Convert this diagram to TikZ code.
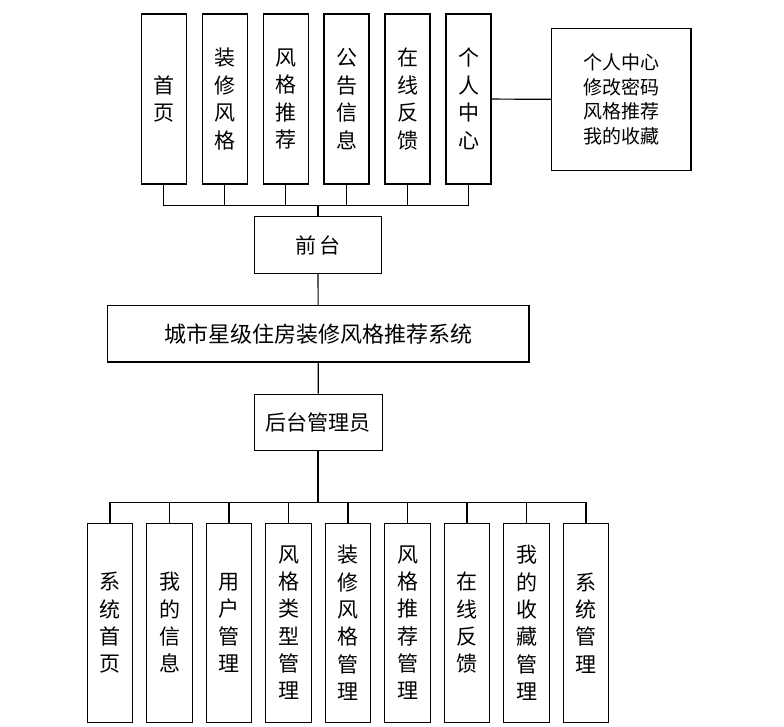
\documentclass[tikz,border=0pt]{standalone}
\usepackage{fontspec}
\newfontfamily\cjk{Noto Sans CJK SC}
\usetikzlibrary{positioning}

\begin{document}
\begin{tikzpicture}[
  x=1bp, y=-1bp,
  vbox/.style={draw, line width=1.2bp, inner sep=0pt, align=center,
               minimum width=45bp, minimum height=170bp,
               font=\cjk\fontsize{21bp}{27.5bp}\selectfont},
  lbox/.style={draw, line width=1.2bp, inner sep=0pt, align=center,
               minimum width=45.5bp, minimum height=199bp,
               font=\cjk\fontsize{21bp}{27.3bp}\selectfont},
  hbox/.style={draw, line width=1.2bp, inner sep=0pt, align=center,
               minimum width=127.5bp, minimum height=56.5bp,
               font=\cjk\fontsize{21bp}{25bp}\selectfont},
  lnk/.style={line width=1.2bp},
  trunk/.style={line width=2.2bp}]

\useasboundingbox (0,0) rectangle (784,727);

% front end
\node[vbox] (shouye) at (163.7,99) {首\\页};
\node[vbox] (zxfg)   at (224.7,99) {装\\修\\风\\格};
\node[vbox] (fgtj)   at (285.6,99) {风\\格\\推\\荐};
\node[vbox] (gaxx)   at (346.5,99) {公\\告\\信\\息};
\node[vbox] (zxfk)   at (407.5,99) {在\\线\\反\\馈};
\node[vbox] (grzx)   at (468.5,99) {个\\人\\中\\心};
\node[draw, line width=1.2bp, inner sep=0pt, align=center,
      minimum width=139.3bp, minimum height=142.3bp,
      font=\cjk\fontsize{19bp}{24.5bp}\selectfont]
      (grlist) at (621.3,99.5) {个人中心\\修改密码\\风格推荐\\我的收藏};

\node[hbox] (qiantai) at (318,245) {前\,台};
\node[hbox, minimum width=421.7bp, minimum height=56.3bp,
      font=\cjk\fontsize{22bp}{25bp}\selectfont] (sys)
      at (318.2,333.8) {城市星级住房装修风格推荐系统};
\node[hbox, minimum width=128bp] (houtai) at (318.3,422.5) {后台管理员};

% back end
\node[lbox] (xtsy)  at (110.0,622.8) {系\\统\\首\\页};
\node[lbox] (wdxx)  at (169.5,622.8) {我\\的\\信\\息};
\node[lbox] (yhgl)  at (229.0,622.8) {用\\户\\管\\理};
\node[lbox] (fglx)  at (288.5,622.8) {风\\格\\类\\型\\管\\理};
\node[lbox] (zxgl)  at (348.0,622.8) {装\\修\\风\\格\\管\\理};
\node[lbox] (tjgl)  at (407.5,622.8) {风\\格\\推\\荐\\管\\理};
\node[lbox] (zxfk2) at (467.0,622.8) {在\\线\\反\\馈};
\node[lbox] (scgl)  at (526.5,622.8) {我\\的\\收\\藏\\管\\理};
\node[lbox] (xtgl)  at (586.0,622.8) {系\\统\\管\\理};

\coordinate (topbus) at (318,205.7);
\coordinate (botbus) at (318.3,502.3);

\draw[lnk] (shouye) |- (topbus);
\draw[lnk] (zxfg)   |- (topbus);
\draw[lnk] (fgtj)   |- (topbus);
\draw[lnk] (gaxx)   |- (topbus);
\draw[lnk] (zxfk)   |- (topbus);
\draw[lnk] (grzx)   |- (topbus);
\draw[trunk] (topbus) -- (qiantai);
\draw[lnk] (grzx) -- (grlist);
\draw[lnk] (qiantai) -- (sys);
\draw[lnk] (sys) -- (houtai);
\draw[trunk] (houtai) -- (botbus);
\draw[lnk] (xtsy)  |- (botbus);
\draw[lnk] (wdxx)  |- (botbus);
\draw[lnk] (yhgl)  |- (botbus);
\draw[lnk] (fglx)  |- (botbus);
\draw[lnk] (zxgl)  |- (botbus);
\draw[lnk] (tjgl)  |- (botbus);
\draw[lnk] (zxfk2) |- (botbus);
\draw[lnk] (scgl)  |- (botbus);
\draw[lnk] (xtgl)  |- (botbus);
\end{tikzpicture}
\end{document}
